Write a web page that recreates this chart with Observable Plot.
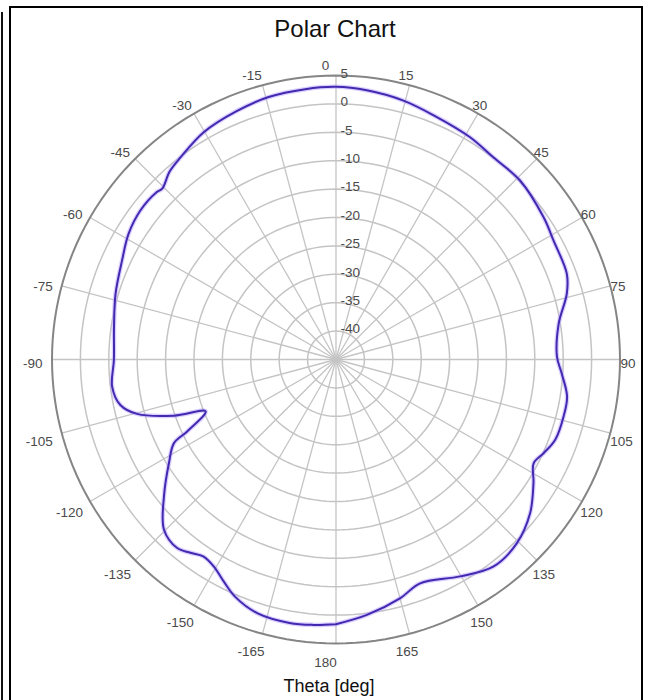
<!DOCTYPE html>
<html><head><meta charset="utf-8">
<script src="https://cdn.jsdelivr.net/npm/d3@7"></script>
<script src="https://cdn.jsdelivr.net/npm/@observablehq/plot@0.6"></script>
<style>
body{margin:0;background:#fff;font-family:"Liberation Sans",Arial,sans-serif;}
#wrap{position:relative;width:653px;height:700px;overflow:hidden;background:#fff;}
#frame{position:absolute;left:9px;top:6px;width:634px;height:720px;border:2px solid #000;border-bottom:none;box-sizing:border-box;}
#edge{position:absolute;left:1px;top:12px;width:2px;height:700px;background:#111;}
#title{position:absolute;left:335px;top:17px;transform:translateX(-50%);white-space:nowrap;font-size:24px;line-height:24px;color:#111;}
#chart{position:absolute;left:0;top:48px;}
#caption{position:absolute;left:329px;top:677px;transform:translateX(-50%);white-space:nowrap;font-size:18px;line-height:18px;color:#111;}
</style></head>
<body><div id="wrap"><div id="edge"></div><div id="frame"></div><div id="title">Polar Chart</div><div id="chart"></div><div id="caption">Theta [deg]</div></div>
<script>
// ---- data ----
const thetaDeg = [-180,-175,-170,-163,-157,-153.2,-149.4,-146,-143,-139.9,-134.7,-128.5,-121.8,-117.3,-115.8,-111.7,-109.1,-105.3,-101.9,-96.9,-90,-81.7,-73.4,-65.2,-58.8,-52.7,-47,-45.5,-41.5,-37.5,-30.2,-21.8,-14.4,-6.5,0,6.5,14.6,21.8,31.1,37.9,45.8,55.6,61.3,69.6,74.1,80.9,89.2,93.5,99.1,104.1,110.1,114.3,117.7,122,128.4,135.5,142.7,150.2,159.4,164.9,173.1,180];
const gainDb   = [1.6,1.9,2.1,1.8,0.4,-1.2,-2.7,-3.2,-2.4,-1.6,-2.4,-6.3,-10.4,-12.9,-15.9,-20.3,-14.8,-8.7,-6.2,-5.3,-5.9,-5.5,-4.5,-3.5,-2.3,-1.7,-1.8,-2.1,-0.8,-0.1,1.3,2.1,2.7,2.9,3.0,2.7,2.1,1.3,0.7,0.1,0.2,-0.7,-1.35,-1.65,-2.75,-5.3,-6.1,-5.2,-3.8,-3.7,-3.9,-4.9,-5.7,-4.0,-1.4,0.4,0.8,-1.0,-2.9,-1.5,0.3,1.6];
const angleTicks  = [0,15,30,45,60,75,90,105,120,135,150,165,180,-165,-150,-135,-120,-105,-90,-75,-60,-45,-30,-15];
const radialTicks = [5,0,-5,-10,-15,-20,-25,-30,-35,-40];
const rMin = -45, rMax = 5;

// ---- geometry ----
const W = 653, H = 630;
const cx = 335.5, cy = 311, Rpx = 284;
const span = rMax - rMin;
const pxPerUnit = Rpx / span;
const rad = d => d * Math.PI / 180;
const px = (deg, v) => (v - rMin) * Math.sin(rad(deg));
const py = (deg, v) => (v - rMin) * Math.cos(rad(deg));

const series = thetaDeg.map((t, i) => ({theta: t, db: gainDb[i]}));

const ringPts = [];
for (const v of radialTicks) for (let a = 0; a <= 360; a += 2) ringPts.push({ring: v, a});

const fs = 13.5;
const textW = s => [...s].reduce((w, c) => w + (c === "-" ? 0.333 : 0.556), 0) * fs;
const angleLabels = angleTicks.map(a => {
  const t = rad(a), s = String(a), w = textW(s);
  const rp = Rpx + 5;
  const ox = Math.sin(t) * w / 2 - 4.5 - 6 * Math.pow(Math.abs(Math.cos(t)), 30);
  const oy = 4.5 - 9.25 * Math.cos(t);
  return {label: s, x: (rp * Math.sin(t) + ox) / pxPerUnit, y: (rp * Math.cos(t) - oy) / pxPerUnit};
});

const chart = Plot.plot({
  width: W, height: H,
  marginLeft: cx - Rpx, marginRight: W - cx - Rpx,
  marginTop: cy - Rpx, marginBottom: H - cy - Rpx,
  x: {domain: [-span, span], axis: null},
  y: {domain: [-span, span], axis: null},
  style: {fontFamily: "'Liberation Sans', Arial, sans-serif", background: "transparent"},
  marks: [
    Plot.link(angleTicks, {x1: () => 0, y1: () => 0, x2: a => px(a, rMax), y2: a => py(a, rMax), stroke: "#c4c4c4", strokeWidth: 1.3}),
    Plot.line(ringPts.filter(d => d.ring !== rMax), {x: d => px(d.a, d.ring), y: d => py(d.a, d.ring), z: "ring", stroke: "#c4c4c4", strokeWidth: 1.5}),
    Plot.line(ringPts.filter(d => d.ring === rMax), {x: d => px(d.a, d.ring), y: d => py(d.a, d.ring), z: "ring", stroke: "#858585", strokeWidth: 2}),
    Plot.line(series, {x: d => px(d.theta, d.db), y: d => py(d.theta, d.db), curve: "catmull-rom", stroke: "#b7a4ff", strokeWidth: 4.5, strokeOpacity: 0.5, strokeLinejoin: "round"}),
    Plot.line(series, {x: d => px(d.theta, d.db), y: d => py(d.theta, d.db), curve: "catmull-rom", stroke: "#4328b0", strokeWidth: 2, strokeLinejoin: "round"}),
    Plot.text(radialTicks, {x: () => 0, y: v => v - rMin, text: v => String(v), textAnchor: "start", dx: 4.5, dy: -2, fill: "#4a4a4a", fontSize: fs}),
    Plot.text(angleLabels, {x: "x", y: "y", text: "label", textAnchor: "middle", lineAnchor: "middle", fill: "#4a4a4a", fontSize: fs})
  ]
});
document.getElementById("chart").appendChild(chart);
</script>
</body></html>
